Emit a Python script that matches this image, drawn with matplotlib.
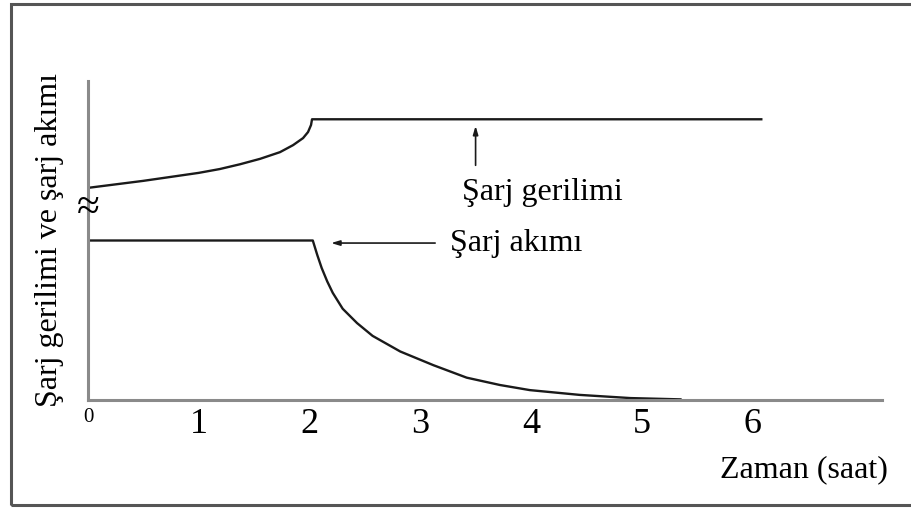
import matplotlib
matplotlib.use("Agg")
import matplotlib.pyplot as plt
from matplotlib.patches import Rectangle

plt.rcParams['font.family'] = ['Liberation Serif', 'DejaVu Serif']

# time in hours, values in arbitrary units (axis top = 10)
volt_x = [0, 0.5, 1.0, 1.19, 1.373, 1.554, 1.734, 1.852, 1.942, 1.987, 2.014, 2.023, 6.08]
volt_y = [6.65, 6.87, 7.12, 7.24, 7.39, 7.56, 7.77, 7.99, 8.21, 8.40, 8.62, 8.8, 8.8]

curr_x = [0, 2.03, 2.07, 2.11, 2.16, 2.21, 2.30, 2.43, 2.57, 2.82, 3.12, 3.42, 3.72, 3.99, 4.44, 4.90, 5.35]
curr_y = [5.0, 5.0, 4.55, 4.14, 3.72, 3.36, 2.86, 2.41, 2.01, 1.52, 1.09, 0.70, 0.47, 0.31, 0.16, 0.06, 0.02]

x_ticks = [0, 1, 2, 3, 4, 5, 6]

W, H = 912, 508
fig = plt.figure(figsize=(W / 100, H / 100), dpi=100)

# frame round the picture (right edge is cut off in the original)
fig.patches.append(Rectangle((11 / W, 3 / H), 1.2, (H - 7) / H, transform=fig.transFigure,
                             fill=False, edgecolor='#555555', lw=2.2))

ax = fig.add_axes([88 / W, (H - 400) / H, (882 - 88) / W, (400 - 81) / H])
ax.set_xlim(0, 7.17)
ax.set_ylim(0, 10)
ax.patch.set_alpha(0)

for s in ['top', 'right']:
    ax.spines[s].set_visible(False)
for s in ['left', 'bottom']:
    ax.spines[s].set_color('#8a8a8a')
    ax.spines[s].set_linewidth(2.2)

ax.plot(volt_x, volt_y, color='#1a1a1a', lw=1.7, solid_joinstyle='round')
ax.plot(curr_x, curr_y, color='#1a1a1a', lw=1.7, solid_joinstyle='round')

ax.set_yticks([])
ax.set_xticks(x_ticks, [str(t) for t in x_ticks])
ax.tick_params(axis='x', length=0, pad=6, labelsize=26)
ax.get_xticklabels()[0].set_fontsize(15)

# axis break mark
ax.text(0, 6.0, '≈', fontsize=30, ha='center', va='center', clip_on=False)

# annotations
ax.annotate('', xy=(3.50, 8.68), xytext=(3.50, 7.27),
            arrowprops=dict(arrowstyle='-|>,head_length=0.5,head_width=0.15', color='#1a1a1a', lw=1.2))
ax.text(4.10, 6.52, 'Şarj gerilimi', fontsize=23, ha='center', va='center')

ax.annotate('', xy=(2.17, 4.92), xytext=(3.16, 4.92),
            arrowprops=dict(arrowstyle='-|>,head_length=0.5,head_width=0.15', color='#1a1a1a', lw=1.2))
ax.text(3.27, 4.92, 'Şarj akımı', fontsize=23, ha='left', va='center')

fig.text(804 / W, 1 - 470 / H, 'Zaman (saat)', fontsize=23, ha='center', va='center')
fig.text(50 / W, 1 - 240 / H, 'Şarj gerilimi ve şarj akımı', fontsize=23,
         rotation=90, ha='center', va='center')

fig.savefig('out.png', dpi=100)
